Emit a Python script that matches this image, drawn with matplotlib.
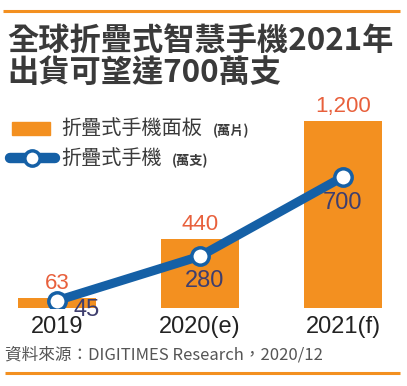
import matplotlib
matplotlib.use("Agg")
import matplotlib.pyplot as plt
from matplotlib.patches import Rectangle
from matplotlib.lines import Line2D

plt.rcParams['font.family'] = ['Noto Sans CJK TC', 'DejaVu Sans']

categories = ["2019", "2020(e)", "2021(f)"]
panel_values = [63, 440, 1200]          # 折疊式手機面板 (萬片)
phone_values = [45, 280, 700]           # 折疊式手機 (萬支)
panel_labels = ["63", "440", "1,200"]
phone_labels = ["45", "280", "700"]

title = "全球折疊式智慧手機2021年\n出貨可望達700萬支"
legend_panel = "折疊式手機面板"
legend_panel_unit = "(萬片)"
legend_phone = "折疊式手機"
legend_phone_unit = "(萬支)"
source = "資料來源：DIGITIMES Research，2020/12"

ORANGE = "#F39020"
BLUE = "#1560A6"
RED_TXT = "#E8603C"
NAVY_TXT = "#3E3E6E"
NUMFONT = ["Liberation Sans", "DejaVu Sans"]

W, H = 407, 386
fig = plt.figure(figsize=(W / 100, H / 100), dpi=100)

# overlay in pixel coordinates for decoration
ov = fig.add_axes([0, 0, 1, 1])
ov.set_xlim(0, W)
ov.set_ylim(H, 0)
ov.axis("off")

# main axes: baseline at 308px from top, top at 100px
bot_px, top_px = 308, 100
ax = fig.add_axes([0, (H - bot_px) / H, 1, (bot_px - top_px) / H])
ax.set_zorder(2)
ax.patch.set_alpha(0)
xs = list(range(len(categories)))
ax.set_xlim(-57 / 143, (W - 57) / 143)
ax.set_ylim(0, (bot_px - top_px) / 0.156)
ax.bar(xs, panel_values, width=0.54, color=ORANGE, zorder=1)
for x, v, lab in zip(xs, panel_values, panel_labels):
    ax.annotate(lab, (x, v), xytext=(0, 3), textcoords="offset points",
                ha="center", va="bottom", color=RED_TXT, fontsize=16,
                family=NUMFONT)
ax.set_xticks(xs)
ax.set_xticklabels(categories, fontsize=17, color="#222222", family=NUMFONT)
ax.tick_params(axis="x", length=0, pad=6)
ax.set_yticks([])
for s in ax.spines.values():
    s.set_visible(False)

ax2 = ax.twinx()
ax2.set_ylim(6, 6 + (bot_px - top_px) / 0.189)
ax2.plot(xs, phone_values, color=BLUE, lw=6.5, marker="o", markersize=12.5,
         markerfacecolor="white", markeredgecolor=BLUE, markeredgewidth=2.5,
         solid_capstyle="butt", zorder=3)
offsets = [(21, -7), (3, -18), (0, -19)]
for x, v, lab, off in zip(xs, phone_values, phone_labels, offsets):
    ax2.annotate(lab, (x, v), xytext=off, textcoords="offset points",
                 ha="center", va="center", color=NAVY_TXT, fontsize=17,
                 family=NUMFONT)
ax2.set_yticks([])
for s in ax2.spines.values():
    s.set_visible(False)

# decorations
ov.plot([3, 400], [11, 11], color=ORANGE, lw=2.2, solid_capstyle="butt")
ov.plot([5, 400], [373, 373], color=ORANGE, lw=2.2, solid_capstyle="butt")
ov.text(7, 57, title, ha="left", va="center", fontsize=22.5, fontweight="bold",
        color="#3a3a3a", linespacing=1.02)

# legend
ov.add_patch(Rectangle((12, 122), 38, 13, color=ORANGE))
ov.text(61, 128, legend_panel, ha="left", va="center", fontsize=14.5, color="#3a3a3a")
ov.text(213, 131, legend_panel_unit, ha="left", va="center", fontsize=9.5,
        fontweight="bold", color="#3a3a3a")
ov.add_line(Line2D([10, 55], [158, 158], color=BLUE, lw=7.5, solid_capstyle="round"))
ov.plot([32], [158], marker="o", markersize=11, markerfacecolor="white",
        markeredgecolor=BLUE, markeredgewidth=2.5)
ov.text(61, 158, legend_phone, ha="left", va="center", fontsize=14.5, color="#3a3a3a")
ov.text(172, 161, legend_phone_unit, ha="left", va="center", fontsize=9.5,
        fontweight="bold", color="#3a3a3a")

ov.text(5, 355, source, ha="left", va="center", fontsize=12, color="#555555")

fig.savefig("out.png", dpi=100)
